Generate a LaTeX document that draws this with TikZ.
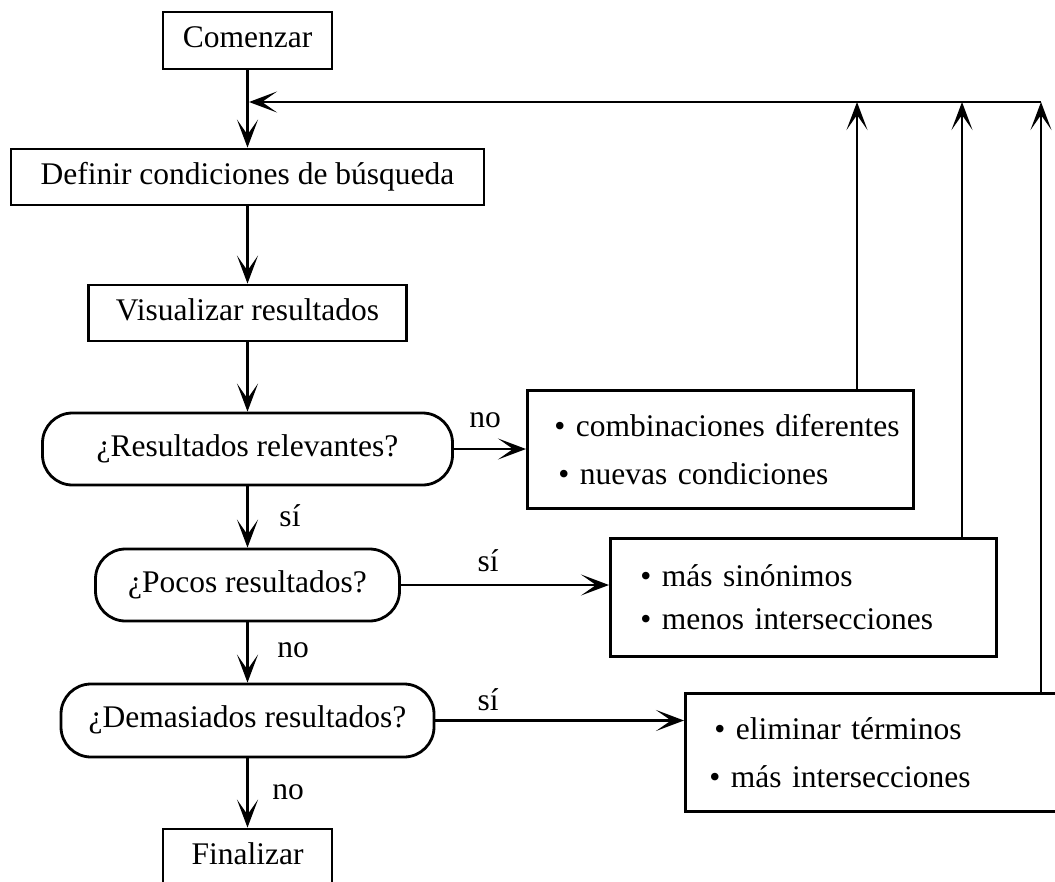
\documentclass[tikz,border=0pt]{standalone}
\usepackage{fontspec}
\setmainfont{Liberation Serif}
\usetikzlibrary{arrows.meta,calc}
\begin{document}
\begin{tikzpicture}[x=1pt,y=-1pt,
  every node/.style={font=\fontsize{31.5}{38}\selectfont},
  box/.style={draw, line width=2.8pt, inner sep=0pt, text height=21pt, text depth=7pt},
  decision/.style={box, rounded corners=30pt},
  listbox/.style={draw, line width=2.8pt, inner xsep=0pt, inner ysep=0pt, align=left,
    anchor=north west, text width=386pt, minimum height=118pt},
  conn/.style={line width=2.8pt, -{Stealth[length=28pt,width=21pt,inset=15pt]}},
  lbl/.style={inner sep=0pt}
]
\useasboundingbox (0,0) rectangle (1055,881);
\clip (0,0) rectangle (1055,881);

\node[box, minimum width=169pt, minimum height=57pt] (start) at (247.5,40.5) {Comenzar};
\node[box, minimum width=473pt, minimum height=56pt] (def) at (247.5,177) {Definir condiciones de búsqueda};
\node[box, minimum width=318pt, minimum height=56pt] (vis) at (247.5,313) {Visualizar resultados};
\node[decision, minimum width=410pt, minimum height=72pt] (rel) at (247.5,449) {¿Resultados relevantes?};
\node[decision, minimum width=304pt, minimum height=72pt] (poc) at (247.5,585) {¿Pocos resultados?};
\node[decision, minimum width=373pt, minimum height=73pt] (dem) at (247.5,720.5) {¿Demasiados resultados?};
\node[box, minimum width=169pt, minimum height=57pt] (fin) at (247.5,857.5) {Finalizar};

\node[listbox, font=\fontsize{31.5}{48}\selectfont] (b1) at (526,389)
  {\hspace*{27pt}• combinaciones diferentes\\\hspace*{31pt}• nuevas condiciones};
\node[listbox, font=\fontsize{31.5}{43}\selectfont] (b2) at (609,537)
  {\hspace*{30pt}• más sinónimos\\\hspace*{30pt}• menos intersecciones};
\node[listbox, font=\fontsize{31.5}{48}\selectfont] (b3) at (684,692)
  {\hspace*{29pt}• eliminar términos\\\hspace*{24pt}• más intersecciones};

\coordinate (join) at (249,102);
\coordinate (t1) at (857,102);
\coordinate (t2) at (962,102);
\coordinate (t3) at (1041,102);

\draw[conn] (start.south) -- (def.north);
\draw[conn] (def.south) -- (vis.north);
\draw[conn] (vis.south) -- (rel.north);
\draw[conn] (rel.south) -- (poc.north);
\draw[conn] (poc.south) -- (dem.north);
\draw[conn] (dem.south) -- (fin.north);

\draw[conn] (rel.east) -- (rel.east -| b1.west);
\draw[conn] (poc.east) -- (poc.east -| b2.west);
\draw[conn] (dem.east) -- (dem.east -| b3.west);

\draw[conn] (b1.north -| t1) -- (t1);
\draw[conn] (b2.north -| t2) -- (t2);
\draw[conn] (b3.north -| t3) -- (t3);
\draw[conn] (t3) -- (join);

\node[lbl] (lno1) at (485,420) {no};
\node[lbl] (lsi1) at (488,561) {sí};
\node[lbl] (lsi2) at (488,700) {sí};
\node[lbl] (lsi3) at (290,516) {sí};
\node[lbl] (lno2) at (293,650) {no};
\node[lbl] (lno3) at (288,792) {no};
\end{tikzpicture}
\end{document}
